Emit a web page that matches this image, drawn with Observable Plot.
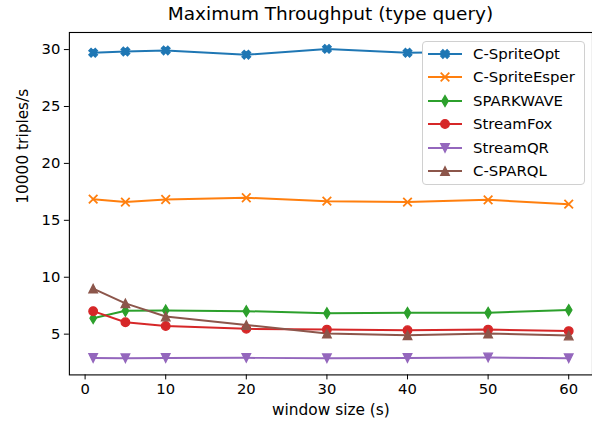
<!DOCTYPE html>
<html><head><meta charset="utf-8">
<script src="https://cdn.jsdelivr.net/npm/d3@7"></script>
<script src="https://cdn.jsdelivr.net/npm/@observablehq/plot@0.6"></script>
<style>
html,body{margin:0;padding:0;background:#fff;}
body{font-family:"DejaVu Sans",sans-serif;color:#000;}
#wrap{position:relative;width:592px;height:421px;overflow:hidden;}
#title{height:28px;width:523px;margin-left:69px;text-align:center;font-size:18.5px;line-height:28px;white-space:nowrap;}
#chart{position:relative;z-index:1;}
#legend{position:absolute;z-index:5;left:422px;top:41px;width:163px;height:144px;border:1px solid #d0d0d0;border-radius:4px;background:#fff;box-sizing:border-box;}
.row{position:absolute;left:0;height:20px;display:flex;align-items:center;}
.row svg{display:block;}
.row span{font-size:14.9px;margin-left:10px;white-space:nowrap;}
</style></head>
<body>
<div id="wrap">
<div id="title">Maximum Throughput (type query)</div>
<div id="chart"></div>
<div id="legend"></div>
</div>
<script>
// ---- data ----
const windowSizes = [1, 5, 10, 20, 30, 40, 50, 60];
const seriesNames = ["C-SpriteOpt", "C-SpriteEsper", "SPARKWAVE", "StreamFox", "StreamQR", "C-SPARQL"];
const cSpriteOpt   = [29.72, 29.83, 29.92, 29.55, 30.06, 29.72, 29.80, 29.85];
const cSpriteEsper = [16.86, 16.60, 16.83, 16.98, 16.68, 16.60, 16.80, 16.42];
const sparkwave    = [6.40, 7.05, 7.08, 7.02, 6.84, 6.87, 6.88, 7.12];
const streamFox    = [7.02, 6.05, 5.72, 5.47, 5.40, 5.35, 5.40, 5.27];
const streamQR     = [2.90, 2.88, 2.90, 2.92, 2.88, 2.90, 2.95, 2.88];
const cSparql      = [9.00, 7.70, 6.55, 5.80, 5.06, 4.90, 5.05, 4.88];
const seriesColors = ["#1f77b4", "#ff7f0e", "#2ca02c", "#d62728", "#9467bd", "#8c564b"];
const xTicks = [0, 10, 20, 30, 40, 50, 60];
const yTicks = [5, 10, 15, 20, 25, 30];

const seriesValues = [cSpriteOpt, cSpriteEsper, sparkwave, streamFox, streamQR, cSparql];

// ---- custom matplotlib-like symbols ----
function poly(ctx, pts) {
  ctx.moveTo(pts[0][0], pts[0][1]);
  for (let i = 1; i < pts.length; i++) ctx.lineTo(pts[i][0], pts[i][1]);
  ctx.closePath();
}
const symFilledX = {draw(ctx, size) {
  const r = Math.sqrt(size / Math.PI);
  const w = r * 0.36, L = r * Math.SQRT2 - w;
  const p = [[w,w],[w,L],[-w,L],[-w,w],[-L,w],[-L,-w],[-w,-w],[-w,-L],[w,-L],[w,-w],[L,-w],[L,w]];
  poly(ctx, p.map(([x,y]) => [(x - y) / Math.SQRT2, (x + y) / Math.SQRT2]));
}};
const symTimes = {draw(ctx, size) {
  const r = Math.sqrt(size / Math.PI);
  ctx.moveTo(-r, -r); ctx.lineTo(r, r);
  ctx.moveTo(-r, r); ctx.lineTo(r, -r);
}};
const symThinDiamond = {draw(ctx, size) {
  const r = Math.sqrt(size / Math.PI);
  const h = r * 1.25, w = r * 0.75;
  poly(ctx, [[0,-h],[w,0],[0,h],[-w,0]]);
}};
const symCircle = {draw(ctx, size) {
  const r = Math.sqrt(size / Math.PI);
  ctx.moveTo(r, 0); ctx.arc(0, 0, r, 0, 2 * Math.PI);
}};
const symTriDown = {draw(ctx, size) {
  const r = Math.sqrt(size / Math.PI);
  poly(ctx, [[0, r],[-r,-r],[r,-r]]);
}};
const symTriUp = {draw(ctx, size) {
  const r = Math.sqrt(size / Math.PI);
  poly(ctx, [[0, -r],[-r, r],[r, r]]);
}};
const seriesSymbols = [symFilledX, symTimes, symThinDiamond, symCircle, symTriDown, symTriUp];
const seriesFilled  = [true, false, true, true, true, true];

// long table
const rows = [];
seriesNames.forEach((name, i) => {
  windowSizes.forEach((x, j) => rows.push({series: name, x, y: seriesValues[i][j]}));
});

const marks = [];
seriesNames.forEach((name, i) => {
  const d = rows.filter(r => r.series === name);
  marks.push(Plot.line(d, {x: "x", y: "y", stroke: seriesColors[i], strokeWidth: 2}));
});
seriesNames.forEach((name, i) => {
  const d = rows.filter(r => r.series === name);
  marks.push(Plot.dot(d, {
    x: "x", y: "y", r: 4.3,
    symbol: seriesSymbols[i],
    fill: seriesFilled[i] ? seriesColors[i] : "none",
    stroke: seriesColors[i],
    strokeWidth: seriesFilled[i] ? 1.3 : 1.8
  }));
});

const chart = Plot.plot({
  width: 593,
  height: 393,
  marginTop: 4,
  marginBottom: 46,
  marginLeft: 69,
  marginRight: 0,
  style: {fontFamily: "DejaVu Sans, sans-serif", fontSize: "14.8px", color: "#000", background: "#fff"},
  x: {domain: [-1.95, 62.95], ticks: xTicks, tickSize: 5, tickPadding: 4, label: null},
  y: {domain: [1.42, 31.5], ticks: yTicks, tickSize: 5, tickPadding: 4, label: null},
  marks: [
    ...marks,
    Plot.frame({stroke: "#000", strokeWidth: 1.1}),
    Plot.axisX({ticks: xTicks, tickSize: 5, tickPadding: 4, label: null, fontSize: 14.8}),
    Plot.axisY({ticks: yTicks, tickSize: 5, tickPadding: 4, label: null, fontSize: 14.8}),
    Plot.text(["window size (s)"], {frameAnchor: "bottom", dy: 40, fontSize: 15.4}),
    Plot.text(["10000 triples/s"], {frameAnchor: "left", dx: -46, rotate: -90, fontSize: 15.4})
  ]
});
document.getElementById("chart").appendChild(chart);

// ---- legend ----
const legend = document.getElementById("legend");
seriesNames.forEach((name, i) => {
  const row = document.createElement("div");
  row.className = "row";
  row.style.top = (2 + i * 23.4) + "px";
  row.style.left = "4px";
  const svg = d3.create("svg").attr("width", 36).attr("height", 20);
  svg.append("line").attr("x1", 1).attr("x2", 35).attr("y1", 10).attr("y2", 10)
    .attr("stroke", seriesColors[i]).attr("stroke-width", 2);
  svg.append("path").attr("transform", "translate(18,10)")
    .attr("d", d3.symbol(seriesSymbols[i], 4.3 * 4.3 * Math.PI)())
    .attr("fill", seriesFilled[i] ? seriesColors[i] : "none")
    .attr("stroke", seriesColors[i])
    .attr("stroke-width", seriesFilled[i] ? 1.3 : 1.8);
  row.appendChild(svg.node());
  const span = document.createElement("span");
  span.textContent = name;
  row.appendChild(span);
  legend.appendChild(row);
});
</script>
</body></html>
